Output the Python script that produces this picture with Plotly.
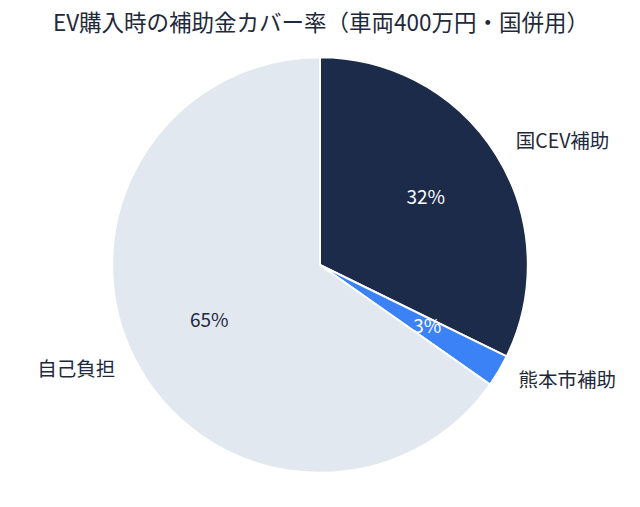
import plotly.graph_objects as go

labels = ["国CEV補助", "熊本市補助", "自己負担"]
values = [129, 10, 261]  # 万円 (車両400万円)
colors = ["#1c2b4a", "#3b82f6", "#e2e8f0"]
pct_colors = ["#ffffff", "#ffffff", "#1e293b"]
title = "EV購入時の補助金カバー率（車両400万円・国併用）"

FONT = "Noto Sans CJK JP"
total = sum(values)

# slice geometry (clockwise from 12 o'clock)
mids, widths, cum = [], [], 0.0
for v in values:
    mids.append((cum + v / 2) / total * 360)
    widths.append(v / total * 360)
    cum += v
pct_text = [f"{round(v / total * 100 + 1e-9):.0f}%" for v in values]
label_pos = ["middle right" if m < 180 else "middle left" for m in mids]

fig = go.Figure()
fig.add_trace(go.Barpolar(
    r=[1] * len(values), theta=mids, width=widths,
    marker=dict(color=colors, line=dict(color="#ffffff", width=2)),
    text=labels, hovertemplate="%{text}: %{customdata}万円<extra></extra>",
    customdata=values, showlegend=False,
))
fig.add_trace(go.Scatterpolar(
    r=[0.6] * len(values), theta=mids, mode="text", text=pct_text,
    textfont=dict(family=FONT, size=19, color=pct_colors),
    showlegend=False, hoverinfo="skip", cliponaxis=False,
))
fig.add_trace(go.Scatterpolar(
    r=[1.11] * len(values), theta=mids, mode="text", text=labels,
    textposition=label_pos,
    textfont=dict(family=FONT, size=19.5, color="#1e293b"),
    showlegend=False, hoverinfo="skip", cliponaxis=False,
))
fig.update_layout(
    width=640, height=507,
    margin=dict(l=0, r=0, t=17.8, b=10.8),
    paper_bgcolor="#ffffff", plot_bgcolor="#ffffff",
    title=dict(text=title, x=0.489, xanchor="center", y=0.985, yanchor="top",
               font=dict(family=FONT, size=22.5, color="#1e293b")),
    polar=dict(
        domain=dict(x=[0, 0.975], y=[0, 1]),
        bgcolor="rgba(0,0,0,0)",
        bargap=0,
        radialaxis=dict(range=[0, 1.15], visible=False),
        angularaxis=dict(rotation=90, direction="clockwise", visible=False),
    ),
)
fig.write_html("out.html")
